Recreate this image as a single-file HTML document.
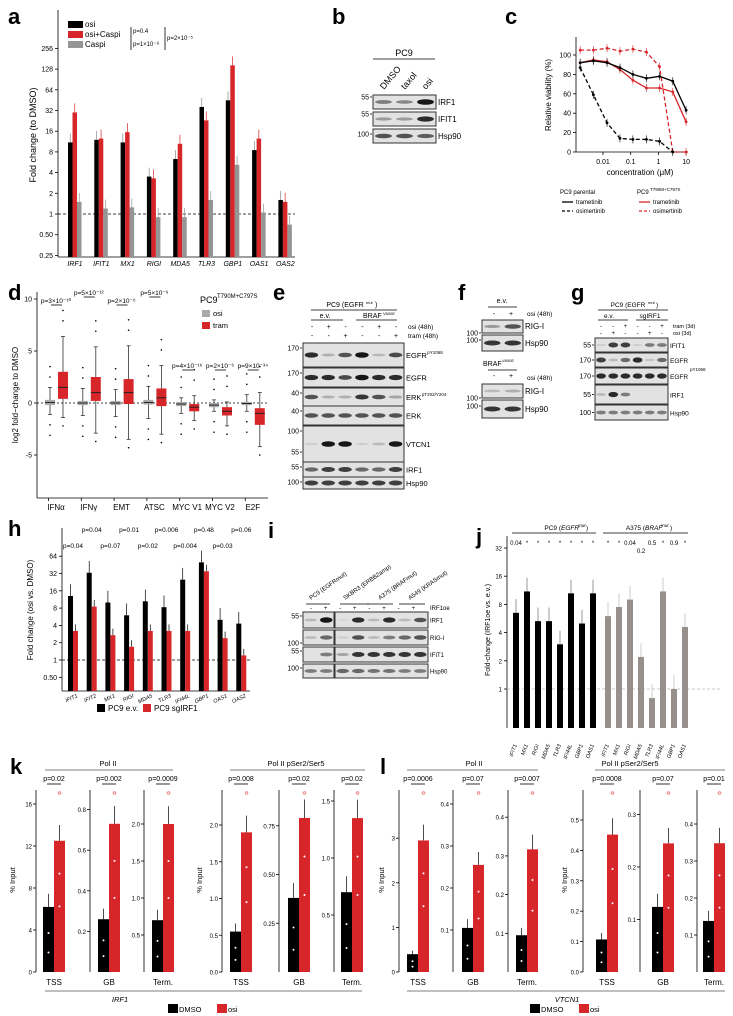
<!DOCTYPE html>
<html><head><meta charset="utf-8"><style>
body{margin:0;background:#fff}
svg{display:block;font-family:"Liberation Sans",Arial,sans-serif}
</style></head><body>
<svg id="fig" width="733" height="1016" viewBox="0 0 733 1016" xmlns="http://www.w3.org/2000/svg"></svg>
<script>
// ---------- data ----------
const aGenes=["IRF1","IFIT1","MX1","RIGI","MDA5","TLR3","GBP1","OAS1","OAS2"];
const aOsi=[11,12,11,3.5,6.3,36,45,8.5,1.6];
const aOsiCaspi=[30,12.5,15.5,3.3,10.5,23,145,12.5,1.5];
const aCaspi=[1.5,1.2,1.25,0.9,0.9,1.6,5.2,1.05,0.7];
const aTicks=[0.25,0.5,1,2,4,8,16,32,64,128,256];
const cConc=[0.0015,0.0045,0.014,0.041,0.12,0.37,1.1,3.3,10];
const cParTram=[92,94,92,87,80,76,78,73,43];
const cParOsi=[87,59,30,14,13,13,11,0,null];
const cResTram=[92,95,93,85,74,66,66,62,31];
const cResOsi=[105,105,107,104,106,103,88,0,0];
const dSets=["IFNα","IFNγ","EMT","ATSC","MYC V1","MYC V2","E2F"];
const dRedMed=[1.5,1,1,0.5,-0.4,-0.8,-1];
const dRedQ1=[0.4,0.2,-0.1,-0.3,-0.8,-1.2,-2.1];
const dRedQ3=[3,2.5,2.3,1.4,-0.1,-0.4,-0.5];
const dRedLo=[-1.4,-2.9,-3.5,-3,-1.7,-2.2,-4.2];
const dRedHi=[6.4,5.4,5.5,3.6,0.7,0.1,1];
const dGrayMed=[0.05,0,0,0.05,-0.1,-0.2,-0.05];
const dGrayQ1=[-0.2,-0.2,-0.2,-0.15,-0.3,-0.4,-0.2];
const dGrayQ3=[0.3,0.2,0.2,0.3,0.1,0,0.1];
const dGrayLo=[-1.1,-1.2,-1.3,-1.5,-1,-0.8,-0.8];
const dGrayHi=[1.5,1.4,1.3,1.6,0.5,0.3,0.8];
const dP=["p=3×10⁻¹⁰","p=5×10⁻¹²","p=2×10⁻⁶","p=5×10⁻⁶","p=4×10⁻¹⁶","p=2×10⁻⁶","p=9×10⁻³⁴"];
const hGenes=["IFIT1","IFIT2","MX1","RIGI","MDA5","TLR3","IFI44L","GBP1","OAS1","OAS2"];
const hEv=[13,33,10,6,10.5,8.3,25,50,5,4.3];
const hSg=[3.2,8.5,2.7,1.7,3.2,3.2,3.2,35,2.4,1.2];
const hP=["p=0.04","p=0.04","p=0.07","p=0.01","p=0.02","p=0.006","p=0.004","p=0.48","p=0.03","p=0.06"];
const jGenes=["IFIT1","MX1","RIGI","MDA5","TLR3","IFI44L","GBP1","OAS1"];
const jPC9=[6.5,11,5.3,5.3,3,10.5,5,10.5];
const jA375=[6,7.5,9,2.2,0.8,11,1,4.6];
const kDMSO=[6.2,0.26,0.7,0.55,0.38,0.7];
const kOsi=[12.5,0.73,2.0,1.9,0.79,1.35];
const kP=["p=0.02","p=0.002","p=0.0009","p=0.008","p=0.02","p=0.02"];
const lDMSO=[0.4,0.105,0.095,0.107,0.124,0.138];
const lOsi=[2.95,0.255,0.317,0.452,0.245,0.348];
const lP=["p=0.0006","p=0.07","p=0.007","p=0.0008","p=0.07","p=0.01"];
const regions=["TSS","GB","Term."];

// ---------- helpers ----------
const NS="http://www.w3.org/2000/svg";
const svg=document.getElementById('fig');
function el(tag,attrs,name,parent){
  const e=document.createElementNS(NS,tag);
  for(const k in attrs)e.setAttribute(k,attrs[k]);
  
  
  (parent||svg).appendChild(e);return e;
}
function tx(x,y,s,name,opt){
  opt=opt||{};
  const e=el('text',{x:x,y:y,'font-size':opt.fs||7,'text-anchor':opt.a||'start',fill:opt.fill||'#000','font-style':opt.it?'italic':'normal','font-weight':opt.b?'bold':'normal'},name);
  if(opt.rot!==undefined)e.setAttribute('transform','rotate('+opt.rot+' '+x+' '+y+')');
  e.textContent=s;return e;
}
function ln(x1,y1,x2,y2,name,c,w,dash){const e=el('line',{x1:x1,y1:y1,x2:x2,y2:y2,stroke:c||'#000','stroke-width':w||0.8},name);if(dash)e.setAttribute('stroke-dasharray',dash);return e;}
function rc(x,y,w,h,f,name){return el('rect',{x:x,y:y,width:w,height:h,fill:f},name);}
function letter(x,y,s){tx(x,y,s,'panel-label-'+s,{fs:22,b:true});}
const RED="#d7262a",GRAY="#959595";

// ---------- panel a ----------
letter(8,24,'a');
const ya=v=>214-Math.log2(v)*20.7;
ln(58,10,58,257,'a-y-axis');ln(58,257,295,257,'a-x-axis');
aTicks.forEach(t=>{ln(55,ya(t),58,ya(t),'a-y-tick');tx(53,ya(t)+2.5,t<1?t.toFixed(2):String(t),'a-y-tick-label',{a:'end'});});
tx(36,135,'Fold change (to DMSO)','a-y-axis-title',{fs:9,a:'middle',rot:-90});
ln(58,ya(1),295,ya(1),'a-reference-line','#000',0.8,'3,2');
aGenes.forEach((g,i)=>{
  const cx=75+i*26.3;
  [[aOsi,'#000',-7],[aOsiCaspi,RED,-2.5],[aCaspi,GRAY,2]].forEach(([arr,c,o])=>{
    const y=ya(arr[i]);rc(cx+o,y,4.5,257-y,c,'a-bar-'+g);
    ln(cx+o+2.25,y,cx+o+2.25,ya(arr[i]*1.35),'a-error-bar',c==='#000'?'#888':c,0.7);
  });
  tx(cx,266,g,'a-x-tick-label',{it:true,a:'middle'});
});
rc(68,21,15,7,'#000','a-legend-swatch-osi');tx(85,27,'osi','a-legend-osi',{fs:8});
rc(68,31,15,7,RED,'a-legend-swatch-osi-caspi');tx(85,37,'osi+Caspi','a-legend-osi-caspi',{fs:8});
rc(68,41,15,7,GRAY,'a-legend-swatch-caspi');tx(85,47,'Caspi','a-legend-caspi',{fs:8});
ln(131,27,131,50,'a-p-bracket');ln(165,27,165,50,'a-p-bracket');
tx(133,33,'p=0.4','a-p-value',{fs:6});tx(133,46,'p=1×10⁻⁸','a-p-value',{fs:6});tx(167,40,'p=2×10⁻⁵','a-p-value',{fs:6});

// ---------- blot helper ----------
function blot(x,y,w,h,bands,name,bg){
  rc(x,y,w,h,bg||'#e2e2e2',name+'-membrane').setAttribute('stroke','#333');
  const n=bands.length,step=w/n;
  bands.forEach((b,i)=>{if(b>0)el('ellipse',{cx:x+step*(i+0.5),cy:y+h/2,rx:step*0.4,ry:Math.min(h*0.3,1+b*1.8),fill:'#000','fill-opacity':Math.min(1,b*0.9)},name+'-band');});
}
function lbl(x,y,s,name){tx(x,y,s,name,{fs:8});}
function mw(x,y,s){tx(x-3,y+2.5,s,'mw-marker',{fs:7,a:'end'});ln(x-2,y,x,y,'mw-tick');}

// ---------- panel b ----------
letter(332,24,'b');
tx(404,56,'PC9','b-cell-line',{fs:9,a:'middle'});ln(373,59,435,59,'b-header-line');
['DMSO','taxol','osi'].forEach((s,i)=>tx(384+i*21,90,s,'b-lane-label',{fs:9,rot:-50}));
blot(373,95,63,14,[0.5,0.45,1],'b-irf1');lbl(438,105,'IRF1','b-row-label');mw(372,97,'55');
blot(373,112,63,14,[0.35,0.35,0.9],'b-ifit1');lbl(438,122,'IFIT1','b-row-label');mw(372,114,'55');
blot(373,129,63,14,[0.7,0.7,0.65],'b-hsp90');lbl(438,139,'Hsp90','b-row-label');mw(372,134,'100');

// ---------- panel c ----------
letter(505,24,'c');
const xc=c=>603+(Math.log10(c)+2)*27.7, yc=v=>152-v*0.97;
ln(576,37,576,152,'c-y-axis');ln(576,152,688,152,'c-x-axis');
[0,20,40,60,80,100].forEach(t=>{ln(573,yc(t),576,yc(t),'c-y-tick');tx(571,yc(t)+2.5,String(t),'c-y-tick-label',{a:'end'});});
[[0.01,'0.01'],[0.1,'0.1'],[1,'1'],[10,'10']].forEach(([c,s])=>{ln(xc(c),152,xc(c),155,'c-x-tick');tx(xc(c),164,s,'c-x-tick-label',{a:'middle'});});
tx(640,175,'concentration (μM)','c-x-axis-title',{fs:8,a:'middle'});
tx(551,95,'Relative viability (%)','c-y-axis-title',{fs:8,a:'middle',rot:-90});
function cLine(arr,col,dash,name){
  const pts=[];arr.forEach((v,i)=>{if(v!==null)pts.push(xc(cConc[i])+','+yc(v));});
  const p=el('polyline',{points:pts.join(' '),fill:'none',stroke:col,'stroke-width':1.3},name);
  if(dash)p.setAttribute('stroke-dasharray','4,2.5');
  arr.forEach((v,i)=>{if(v!==null){el('circle',{cx:xc(cConc[i]),cy:yc(v),r:1.4,fill:col},name+'-point');ln(xc(cConc[i]),yc(v)-4,xc(cConc[i]),yc(v)+4,name+'-error',col,0.6);}});
}
cLine(cResTram,RED,false,'c-line-resistant-trametinib');
cLine(cResOsi,RED,true,'c-line-resistant-osimertinib');
cLine(cParTram,'#000',false,'c-line-parental-trametinib');
cLine(cParOsi,'#000',true,'c-line-parental-osimertinib');
tx(560,194,'PC9 parental','c-legend-parental',{fs:6});
ln(562,202,573,202,'c-legend-swatch','#000',1.3);tx(576,204,'trametinib','c-legend-entry',{fs:6});
ln(562,211,573,211,'c-legend-swatch','#000',1.3,'3,2');tx(576,213,'osimertinib','c-legend-entry',{fs:6});
tx(637,194,'PC9','c-legend-resistant',{fs:6});tx(650,191,'T790M+C797S','c-legend-superscript',{fs:4.5});
ln(639,202,650,202,'c-legend-swatch',RED,1.3);tx(653,204,'trametinib','c-legend-entry',{fs:6});
ln(639,211,650,211,'c-legend-swatch',RED,1.3,'3,2');tx(653,213,'osimertinib','c-legend-entry',{fs:6});

// ---------- panel d ----------
letter(8,300,'d');
const yd=v=>403-v*10.4;
ln(37,292,37,498,'d-y-axis');ln(37,498,268,498,'d-x-axis');
[10,5,0,-5].forEach(t=>{ln(34,yd(t),37,yd(t),'d-y-tick');tx(32,yd(t)+2.5,String(t),'d-y-tick-label',{a:'end'});});
tx(18,395,'log2 fold−change to DMSO','d-y-axis-title',{fs:8,a:'middle',rot:-90});
ln(37,yd(0),268,yd(0),'d-zero-line','#000',0.8,'2,2');
function box(cx,i,med,q1,q3,lo,hi,fill,name){
  ln(cx,yd(hi),cx,yd(lo),name+'-whisker','#333',0.8);
  ln(cx-2,yd(hi),cx+2,yd(hi),name+'-cap','#333',0.8);ln(cx-2,yd(lo),cx+2,yd(lo),name+'-cap','#333',0.8);
  rc(cx-5,yd(q3[i]),10,yd(q1[i])-yd(q3[i]),fill,name+'-box');
  ln(cx-5,yd(med[i]),cx+5,yd(med[i]),name+'-median','#222',1);
}
dSets.forEach((s,i)=>{
  const c=50+i*32.8;
  box(c,i,dGrayMed,dGrayQ1,dGrayQ3,dGrayLo[i],dGrayHi[i],'#aaa','d-box-osi');
  box(c+13,i,dRedMed,dRedQ1,dRedQ3,dRedLo[i],dRedHi[i],RED,'d-box-tram');
  [dGrayHi[i]+1,dGrayHi[i]+2,dGrayLo[i]-1,dGrayLo[i]-2].forEach(v=>el('circle',{cx:c,cy:yd(v),r:0.8,fill:'#000'},'d-outlier'));
  [dRedHi[i]+1.5,dRedHi[i]+2.5,dRedLo[i]-0.8].forEach(v=>el('circle',{cx:c+13,cy:yd(v),r:0.8,fill:'#000'},'d-outlier'));
  ln(c-1.5,498,c-1.5,501,'d-x-tick');
  tx(c+6,510,s,'d-x-tick-label',{fs:8,a:'middle'});
  const py=i<4?(i%2?295:303):368;
  tx(c+6,py,dP[i],'d-p-value',{fs:6.5,a:'middle'});ln(c+1,py+2,c+12,py+2,'d-p-bar');
});
tx(200,303,'PC9','d-legend-title',{fs:9});tx(217,298,'T790M+C797S','d-legend-superscript',{fs:6});
rc(202,310,8,7,'#aaa','d-legend-swatch-osi');tx(213,316,'osi','d-legend-osi',{fs:7.5});
rc(202,322,8,7,RED,'d-legend-swatch-tram');tx(213,328,'tram','d-legend-tram',{fs:7.5});

// ---------- panel e ----------
letter(273,300,'e');
tx(345,307,'PC9 (EGFR','e-header',{fs:7,a:'middle'});tx(366,304,'mut','e-header-sup',{fs:4});tx(375,307,')','e-header',{fs:7});
ln(311,310,397,310,'e-header-line');
tx(325,318,'e.v.','e-group-ev',{fs:7,a:'middle'});ln(311,320,343,320,'e-group-line');
tx(363,318,'BRAF','e-group-braf',{fs:7});tx(383,315,'V600E','e-sup',{fs:4});ln(356,320,397,320,'e-group-line');
const eOsi=['-','+','-','-','+','-'],eTram=['-','-','+','-','-','+'];
eOsi.forEach((s,i)=>{tx(312+i*16.8,329,s,'e-osi-sign',{fs:7,a:'middle'});tx(312+i*16.8,338,eTram[i],'e-tram-sign',{fs:7,a:'middle'});});
tx(408,329,'osi (48h)','e-osi-label',{fs:6.5});tx(408,338,'tram (48h)','e-tram-label',{fs:6.5});
const eRows=[[343,24,[0.9,0.25,0.7,1,0.2,0.75],'EGFR','pY1068',170],[368,19,[0.9,0.9,0.75,1,0.9,0.9],'EGFR','',170],[388,18,[0.7,0.25,0.25,0.85,0.7,0.3],'ERK','pT202/Y204',40],[406,19,[0.7,0.7,0.7,0.7,0.7,0.7],'ERK','',40],[426,36,[0.1,1,1,0.1,0.2,1],'VTCN1','',100],[462,15,[0.6,0.8,0.8,0.6,0.6,0.8],'IRF1','',55],[477,12,[0.8,0.8,0.8,0.8,0.8,0.8],'Hsp90','',100]];
eRows.forEach(r=>{blot(303,r[0],101,r[1],r[2],'e-'+r[3].toLowerCase());tx(406,r[0]+r[1]/2+3,r[3],'e-row-label',{fs:7.5});if(r[4])tx(406+r[3].length*5.3,r[0]+r[1]/2-1,r[4],'e-row-sup',{fs:4.5});mw(302,r[0]+5,String(r[5]));});
mw(302,452,'55');

// ---------- panel f ----------
letter(458,300,'f');
tx(502,303,'e.v.','f-group-ev',{fs:7,a:'middle'});ln(488,307,517,307,'f-group-line');
tx(494,316,'-','f-sign',{fs:7,a:'middle'});tx(511,316,'+','f-sign',{fs:7,a:'middle'});tx(527,316,'osi (48h)','f-osi-label',{fs:6.5});
blot(482,320,41,13,[0.35,0.7],'f-rigi-ev');lbl(525,329,'RIG-I','f-row-label');mw(481,333,'100');
blot(482,335,41,16,[0.85,0.85],'f-hsp90-ev');lbl(525,346,'Hsp90','f-row-label');mw(481,340,'100');
tx(483,366,'BRAF','f-group-braf',{fs:7});tx(502,362,'V600E','f-sup',{fs:4});ln(488,370,517,370,'f-group-line');
tx(494,378,'-','f-sign',{fs:7,a:'middle'});tx(511,378,'+','f-sign',{fs:7,a:'middle'});tx(527,380,'osi (48h)','f-osi-label',{fs:6.5});
blot(482,384,41,14,[0.2,0.25],'f-rigi-braf');lbl(525,394,'RIG-I','f-row-label');mw(481,398,'100');
blot(482,400,41,18,[0.85,0.85],'f-hsp90-braf');lbl(525,412,'Hsp90','f-row-label');mw(481,406,'100');

// ---------- panel g ----------
letter(571,300,'g');
tx(628,307,'PC9 (EGFR','g-header',{fs:6.5,a:'middle'});tx(648,304,'mut','g-header-sup',{fs:4});tx(656,307,')','g-header',{fs:6.5});
ln(598,310,668,310,'g-header-line');
tx(609,318,'e.v.','g-group-ev',{fs:6.5,a:'middle'});ln(598,320,628,320,'g-group-line');
tx(650,318,'sgIRF1','g-group-sg',{fs:6.5,a:'middle'});ln(636,320,668,320,'g-group-line');
const gTram=['-','-','+','-','-','+'],gOsi=['-','+','-','-','+','-'];
gTram.forEach((s,i)=>{tx(601+i*12.2,328,s,'g-tram-sign',{fs:6,a:'middle'});tx(601+i*12.2,335,gOsi[i],'g-osi-sign',{fs:6,a:'middle'});});
tx(673,328,'tram (3d)','g-tram-label',{fs:5.5});tx(673,335,'osi (3d)','g-osi-label',{fs:5.5});
const gRows=[[338,14,[0.1,0.8,0.8,0.1,0.5,0.5],'IFIT1',55],[353,14,[0.8,0.2,0.6,0.9,0.15,0.6],'EGFR',170],[368,16,[0.9,0.9,0.9,0.9,0.9,0.9],'EGFR',170],[385,19,[0.2,0.9,0.5,0,0,0],'IRF1',55],[405,15,[0.5,0.5,0.5,0.5,0.5,0.5],'Hsp90',100]];
gRows.forEach(r=>{blot(595,r[0],73,r[1],r[2],'g-'+r[3].toLowerCase());tx(670,r[0]+r[1]/2+3,r[3],'g-row-label',{fs:6.5});mw(594,r[0]+r[1]/2,String(r[4]));});
tx(690,371,'pY1068','g-row-sup',{fs:4.5});

// ---------- panel h ----------
letter(8,536,'h');
const yh=v=>660-Math.log2(v)*17.3;
ln(62,528,62,691,'h-y-axis');ln(62,691,250,691,'h-x-axis');
[0.5,1,2,4,8,16,32,64].forEach(t=>{ln(59,yh(t),62,yh(t),'h-y-tick');tx(57,yh(t)+2.5,t<1?'0.50':String(t),'h-y-tick-label',{a:'end'});});
tx(33,610,'Fold change (osi vs. DMSO)','h-y-axis-title',{fs:8,a:'middle',rot:-90});
ln(62,yh(1),250,yh(1),'h-reference-line','#000',0.8,'3,2');
hGenes.forEach((g,i)=>{
  const x=68+i*18.7;
  const y1=yh(hEv[i]),y2=yh(hSg[i]);
  rc(x,y1,5,691-y1,'#000','h-bar-ev-'+g);rc(x+5,y2,5,691-y2,RED,'h-bar-sg-'+g);
  ln(x+2.5,y1,x+2.5,yh(hEv[i]*1.6),'h-error-bar','#000',0.7);ln(x+7.5,y2,x+7.5,yh(hSg[i]*1.3),'h-error-bar','#000',0.7);
  tx(x+10,697,g,'h-x-tick-label',{fs:5.5,it:true,a:'end',rot:-25});
  tx(x+5,i%2?532:548,hP[i],'h-p-value',{fs:6.5,a:'middle'});
});
rc(97,704,8,8,'#000','h-legend-swatch-ev');tx(108,711,'PC9 e.v.','h-legend-ev',{fs:8});
rc(143,704,8,8,RED,'h-legend-swatch-sg');tx(154,711,'PC9 sgIRF1','h-legend-sg',{fs:8});

// ---------- panel i ----------
letter(268,538,'i');
[['PC9 (EGFR','mut)',311],['SKBR3 (ERBB2','amp)',345],['A375 (BRAF','mut)',380],['A549 (KRAS','mut)',410]].forEach(([a,b,x])=>tx(x,600,a+b.replace(')','')+')','i-cell-line-label',{fs:6,rot:-35}));
[[306,330],[340,369],[367,393],[399,425]].forEach(([a,b])=>ln(a,604,b,604,'i-group-line'));
for(let k=0;k<8;k++)tx(311+k*14.6,610,k%2?'+':'-','i-sign',{fs:6,a:'middle'});
tx(430,610,'IRF1oe','i-irf1oe-label',{fs:6});
const iRows=[[612,16,[0.2,1,0.05,0.9,0.2,0.9,0.2,0.7],'IRF1','55'],[630,15,[0.2,0.6,0.1,0.7,0.2,0.5,0.6,0.7],'RIG-I','100'],[647,15,[0,0.5,0.3,0.85,0.85,0.85,0.85,0.85],'IFIT1','55'],[664,14,[0.5,0.5,0.6,0.6,0.55,0.55,0.5,0.5],'Hsp90','100']];
iRows.forEach(r=>{blot(303,r[0],31,r[1],r[2].slice(0,2),'i-'+r[3].toLowerCase()+'-pc9');blot(335,r[0],93,r[1],r[2].slice(2),'i-'+r[3].toLowerCase()+'-other');tx(430,r[0]+r[1]/2+2.5,r[3],'i-row-label',{fs:6});mw(302,r[0]+(r[3]==='RIG-I'?13:4),r[4]);});

// ---------- panel j ----------
letter(476,544,'j');
const yj=v=>689-Math.log2(v)*28.2;
ln(507,536,507,728,'j-y-axis');
[1,2,4,8,16,32].forEach(t=>{ln(504,yj(t),507,yj(t),'j-y-tick');tx(502,yj(t)+2.5,String(t),'j-y-tick-label',{fs:6,a:'end'});});
tx(490,630,'Fold-change (IRF1oe vs. e.v.)','j-y-axis-title',{fs:7,a:'middle',rot:-90});
ln(507,yj(1),720,yj(1),'j-reference-line','#bbb',0.7,'3,2');
tx(561,530,'PC9 (','j-group-pc9',{fs:6.5,a:'end'});tx(561,530,'EGFR','j-group-pc9-gene',{fs:6.5,it:true});tx(578,527,'mut','j-sup',{fs:4.5,it:true});tx(586,530,')','j-group-pc9',{fs:6.5});
ln(512,533,596,533,'j-group-line');
tx(645,530,'A375 (','j-group-a375',{fs:6.5,a:'end'});tx(645,530,'BRAF','j-group-a375-gene',{fs:6.5,it:true});tx(661,527,'mut','j-sup',{fs:4.5,it:true});tx(670,530,')','j-group-a375',{fs:6.5});
ln(603,533,688,533,'j-group-line');
const jPtxt=['0.04','*','*','*','*','*','*','*'],jPtxt2=['*','*','0.04','0.2','0.5','*','0.9','*'];
jGenes.forEach((g,i)=>{
  const x=513+i*11,y=yj(jPC9[i]);
  rc(x,y,6,728-y,'#000','j-bar-pc9-'+g);ln(x+3,y,x+3,yj(jPC9[i]*1.4),'j-error-bar','#555',0.6);
  tx(x+4,745,g,'j-x-tick-label-pc9',{fs:5.5,it:true,a:'end',rot:-70});
  tx(x+3,545,jPtxt[i],'j-p-value',{fs:6,a:'middle'});
  const x2=605+i*11,y2=yj(jA375[i]);
  rc(x2,y2,6,728-y2,'#968f8b','j-bar-a375-'+g);ln(x2+3,y2,x2+3,yj(jA375[i]*1.4),'j-error-bar','#aaa',0.6);
  tx(x2+4,745,g,'j-x-tick-label-a375',{fs:5.5,it:true,a:'end',rot:-70});
  tx(x2+3,jPtxt2[i]==='0.2'?553:545,jPtxt2[i],'j-p-value',{fs:6,a:'middle'});
});

// ---------- panels k & l ----------
function chip(prefix,subs,dmso,osi,pv,gene,hdr,leg){
  subs.forEach((s,i)=>{
    const [ax,b0,pxPer,ticks,dec,bx]=s;
    const yy=v=>972-v*pxPer;
    ln(ax,790,ax,972,prefix+'-y-axis');
    ticks.forEach(t=>{ln(ax-3,yy(t),ax,yy(t),prefix+'-y-tick');tx(ax-4,yy(t)+2.5,t.toFixed(dec),prefix+'-y-tick-label',{fs:6,a:'end'});});
    const yd1=yy(dmso[i]),yo=yy(osi[i]);
    rc(bx,yd1,11,972-yd1,'#000',prefix+'-bar-dmso-'+regions[i%3]);
    rc(bx+11,yo,11,972-yo,RED,prefix+'-bar-osi-'+regions[i%3]);
    ln(bx+5.5,yd1,bx+5.5,yy(dmso[i]*1.2),prefix+'-error-bar','#000',0.7);
    ln(bx+16.5,yo,bx+16.5,yy(osi[i]*1.12),prefix+'-error-bar','#000',0.7);
    [0.4,0.7].forEach(f=>el('circle',{cx:bx+5.5,cy:yd1+(972-yd1)*f,r:1,fill:'#fff'},prefix+'-point'));
    [0.25,0.5].forEach(f=>el('circle',{cx:bx+16.5,cy:yo+(972-yo)*f,r:1,fill:'#fff'},prefix+'-point'));
    el('circle',{cx:bx+16.5,cy:793,r:1.3,fill:'none',stroke:'#e88'},prefix+'-outlier');
    tx(bx+11,985,regions[i%3],prefix+'-x-tick-label',{fs:8,a:'middle'});
    tx(bx+11,781,pv[i],prefix+'-p-value',{fs:7,a:'middle'});ln(bx+4,784,bx+18,784,prefix+'-p-bar');
  });
  hdr.forEach(h=>{tx(h[0],766,h[1],prefix+'-header',{fs:7.5,a:'middle'});ln(h[2],770,h[3],770,prefix+'-header-line','#555',0.8);});
  ln(gene[1],991,gene[2],991,prefix+'-gene-line','#555',0.8);
  tx(gene[0],1002,gene[3],prefix+'-gene-label',{fs:7.5,it:true,a:'middle'});
  rc(leg,1004,10,9,'#000',prefix+'-legend-swatch-dmso');tx(leg+11,1012,'DMSO','legend-dmso',{fs:7.5});
  rc(leg+49,1004,10,9,RED,prefix+'-legend-swatch-osi');tx(leg+60,1012,'osi','legend-osi',{fs:7.5});
}
letter(10,774,'k');
chip('k',[[36,0,10.5,[0,4,8,12,16],0,43],[90,0,203,[0.2,0.4,0.6,0.8],1,98],[144,0,74,[0.5,1,1.5,2],1,152],[222,0,73.5,[0,0.5,1,1.5,2],1,230],[279,0,195,[0.25,0.5,0.75],2,288],[334,0,114,[0.5,1,1.5],1,341]],
  kDMSO,kOsi,kP,[120,45,362,'IRF1'],[[108,'Pol II',45,173],[296,'Pol II pSer2/Ser5',230,365]],168);
tx(15,880,'% Input','k-y-axis-title',{fs:7.5,a:'middle',rot:-90});
tx(202,880,'% Input','k-y-axis-title-2',{fs:7.5,a:'middle',rot:-90});
letter(380,774,'l');
chip('l',[[399,0,44.6,[0,1,2,3],0,407],[453,0,420,[0.1,0.2,0.3,0.4],1,462],[508,0,387,[0.1,0.2,0.3,0.4],1,516],[583,0,304,[0,0.1,0.2,0.3,0.4,0.5],1,596],[640,0,525,[0.1,0.2,0.3],1,652],[697,0,370,[0.1,0.2,0.3,0.4],1,703]],
  lDMSO,lOsi,lP,[567,407,725,'VTCN1'],[[474,'Pol II',407,538],[630,'Pol II pSer2/Ser5',595,725]],530);
tx(384,880,'% Input','l-y-axis-title',{fs:7.5,a:'middle',rot:-90});
tx(567,880,'% Input','l-y-axis-title-2',{fs:7.5,a:'middle',rot:-90});
</script>
</body></html>
